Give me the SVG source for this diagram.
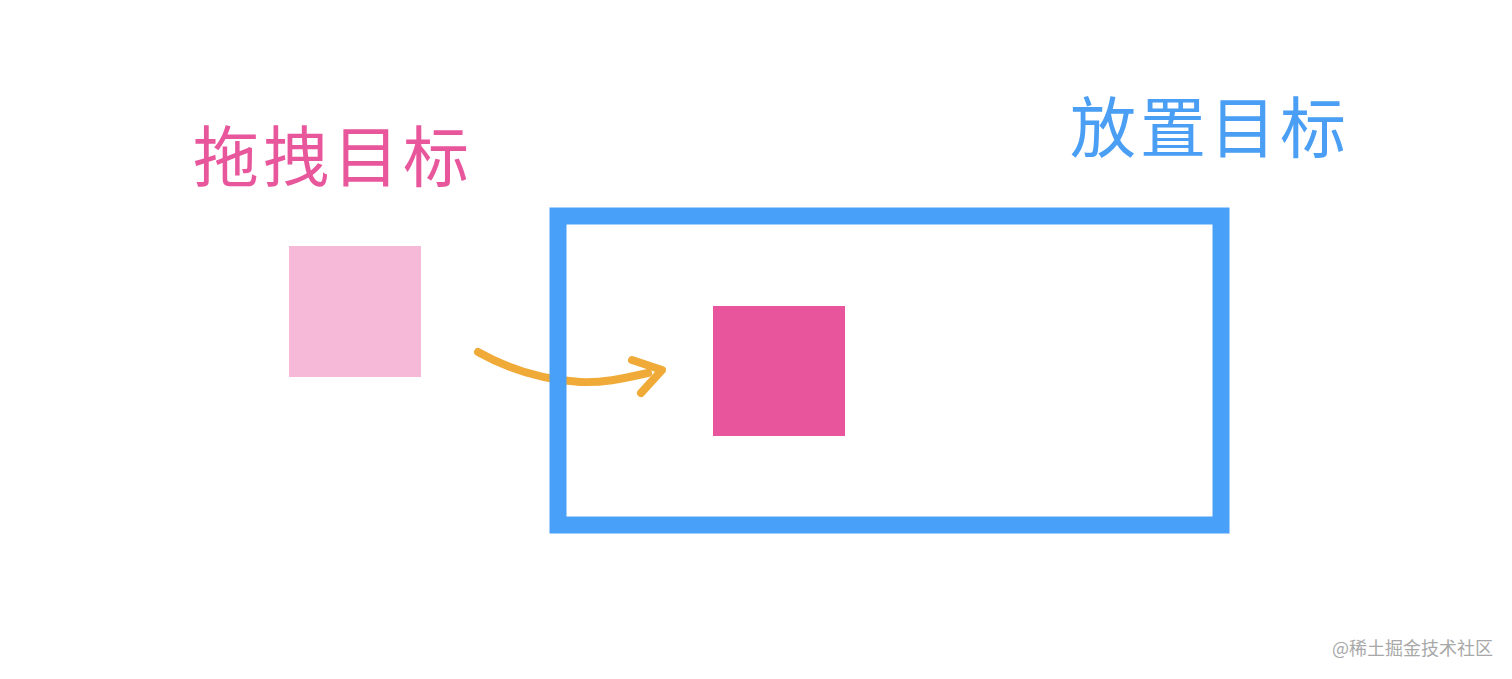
<svg xmlns="http://www.w3.org/2000/svg" width="1512" height="679" viewBox="0 0 1512 679">
<style>
.title{font-family:"Noto Sans CJK SC","Noto Sans",sans-serif;font-size:66px;letter-spacing:4px}
.arrow{fill:none;stroke:#F0AA38;stroke-linecap:round;stroke-linejoin:round}
.mark{font-family:"Noto Sans CJK SC","Noto Sans",sans-serif;font-size:18px;fill:#A8A8A8}
</style>
<rect width="1512" height="679" fill="#FFFFFF"/>
<g id="drag-label"><text class="title" x="193" y="181" fill="#E8569B">拖拽目标</text></g>
<g id="drop-label"><text class="title" x="1070" y="152" fill="#4A9EF3">放置目标</text></g>
<g id="drag-source"><rect x="289" y="246" width="132" height="131" fill="#F7B9D8"/></g>
<g id="connectors">
<path class="arrow" d="M478,352 C510,370 545,380 580,382 C605,383 625,378 648,373" stroke-width="8"/>
<path class="arrow" d="M632,360 L662,370 L641,393" stroke-width="8"/>
</g>
<g id="drop-target"><rect x="558" y="216" width="663" height="309" fill="none" stroke="#48A0F8" stroke-width="17"/></g>
<g id="dropped-item"><rect x="713" y="306" width="132" height="130" fill="#E9559D"/></g>
<g id="watermark"><text class="mark" x="1332" y="655">@稀土掘金技术社区</text></g>
</svg>
